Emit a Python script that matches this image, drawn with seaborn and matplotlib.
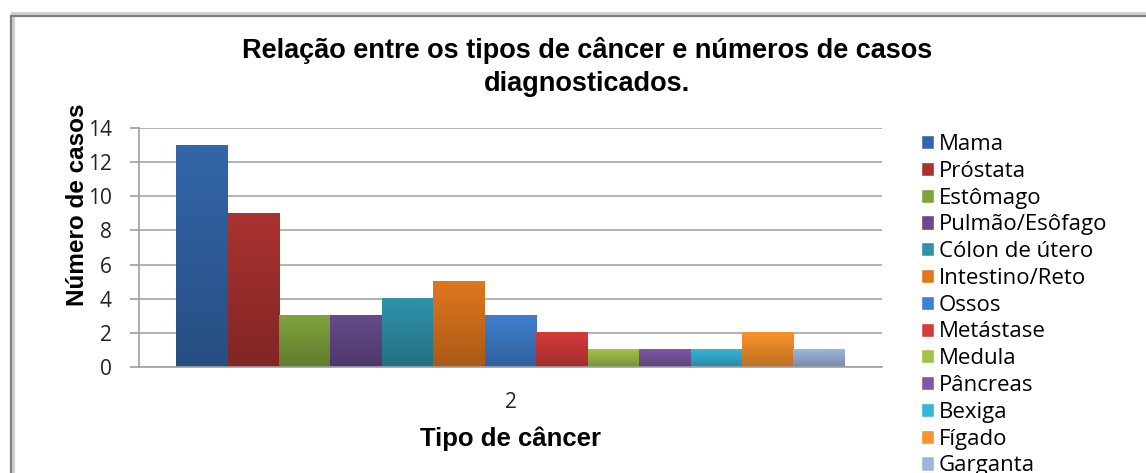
import numpy as np
import pandas as pd
import seaborn as sns
import matplotlib.pyplot as plt
from matplotlib.colors import to_rgba
from matplotlib.patches import Rectangle

tipos = ["Mama", "Próstata", "Estômago", "Pulmão/Esôfago", "Cólon de útero",
         "Intestino/Reto", "Ossos", "Metástase", "Medula", "Pâncreas",
         "Bexiga", "Fígado", "Garganta"]
casos = [13, 9, 3, 3, 4, 5, 3, 2, 1, 1, 1, 2, 1]
grupo = ["2"] * len(tipos)
cores = ["#3366aa", "#aa3230", "#7fa33d", "#664a8a", "#2f93aa", "#e0761e",
         "#3f7fcf", "#d43c3a", "#a0c24a", "#7d58a3", "#36b4d6", "#fa922c",
         "#9db5dd"]

df = pd.DataFrame({"grupo": grupo, "tipo": tipos, "casos": casos})

sns.set_style("white")
plt.rcParams["font.family"] = ["Open Sans", "DejaVu Sans"]
plt.rcParams["text.color"] = "black"

fig = plt.figure(figsize=(11.46, 4.73), dpi=100)
ax = fig.add_axes([139 / 1146, 1 - 367 / 473, 743 / 1146, 239 / 473])

sns.barplot(data=df, x="grupo", y="casos", hue="tipo", hue_order=tipos,
            palette=cores, saturation=1, width=0.9, ax=ax, legend=True)

# gradiente vertical estilo Excel em cada barra
for patch in list(ax.patches):
    x0, y0 = patch.get_xy()
    w, h = patch.get_width(), patch.get_height()
    if h <= 0:
        continue
    top = np.array(to_rgba(patch.get_facecolor()))
    bottom = top.copy()
    bottom[:3] = bottom[:3] * 0.76
    t = np.linspace(0, 1, 64)[:, None]
    grad = bottom[None, :] * (1 - t) + top[None, :] * t
    ax.imshow(grad[:, None, :], extent=(x0, x0 + w, y0, y0 + h), origin="lower",
              aspect="auto", zorder=patch.get_zorder(), interpolation="bilinear")
    patch.set_facecolor("none")
    patch.set_edgecolor("none")

ax.set_xlim(-0.5, 0.5)
ax.set_ylim(0, 14)
ax.set_yticks(range(0, 15, 2))
ax.yaxis.grid(True, color="#a6a6a6", linewidth=1.2)
ax.set_axisbelow(True)
for s in ["top", "right"]:
    ax.spines[s].set_visible(False)
for s in ["left", "bottom"]:
    ax.spines[s].set_color("#a0a0a0")
    ax.spines[s].set_linewidth(1.2)

ax.tick_params(axis="y", which="major", left=True, length=6.5, width=1.2,
               color="#a0a0a0", labelsize=15, labelcolor="#222222", pad=13)
ax.tick_params(axis="x", length=0, labelsize=15, labelcolor="#222222", pad=18)

ax.set_ylabel("Número de casos", fontsize=17.5, fontweight="bold",
              family="Liberation Sans", color="black")
ax.set_xlabel("Tipo de câncer", fontsize=18.5, fontweight="bold",
              family="Liberation Sans", color="black")
ax.yaxis.set_label_coords(-0.067, 0.678)
ax.xaxis.set_label_coords(0.5, -0.25)

fig.text(587 / 1146, 1 - 67 / 473,
         "Relação entre os tipos de câncer e números de casos\ndiagnosticados.",
         ha="center", va="center", fontsize=19.5, fontweight="bold",
         family="Liberation Sans", linespacing=1.35, color="black")

handles, labels = ax.get_legend_handles_labels()
ax.legend(handles, labels, loc="upper left",
          bbox_to_anchor=(921 / 1146, 1 - 134 / 473),
          bbox_transform=fig.transFigure, frameon=False, fontsize=16,
          handlelength=0.6, handleheight=0.6, handletextpad=0.2,
          labelspacing=0.26, borderpad=0, borderaxespad=0)

# moldura do gráfico com sombra
fig.patches.append(Rectangle((13 / 1146, -0.1), 1.2, 1 - 14 / 473 + 0.1,
                             transform=fig.transFigure, fill=False,
                             edgecolor="#cfcfcf", linewidth=3, zorder=0))
fig.patches.append(Rectangle((11 / 1146, -0.1), 1.2, 1 - 16 / 473 + 0.1,
                             transform=fig.transFigure, fill=False,
                             edgecolor="#7f7f7f", linewidth=1.6, zorder=1))

fig.savefig("out.png", dpi=100)
